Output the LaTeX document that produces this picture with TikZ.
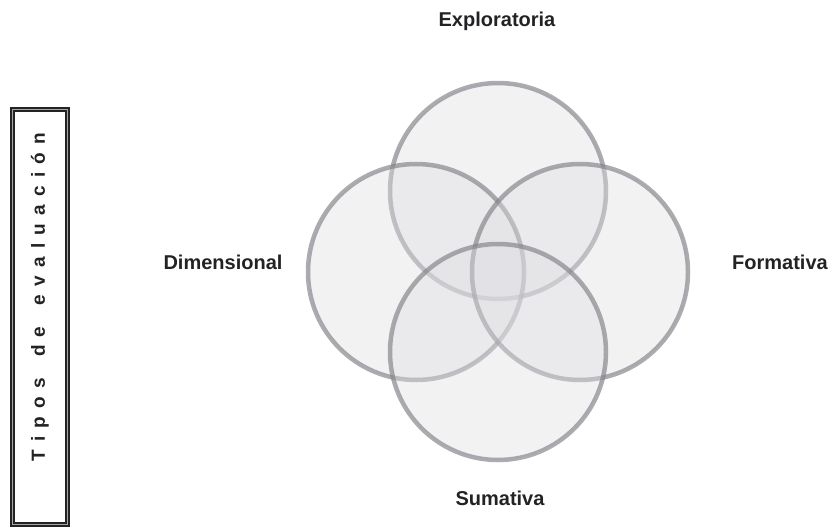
\documentclass[tikz,border=0pt]{standalone}
\usepackage{fontspec}
\setmainfont{Liberation Sans}
\usepackage{tikz}
\usetikzlibrary{positioning}
\definecolor{ringG}{RGB}{128,128,134}
\definecolor{fillG}{RGB}{222,222,226}
\definecolor{inkG}{RGB}{35,35,38}
\newcommand{\ls}{\hspace{8.3pt}}
\newcommand{\lw}{\hspace{21pt}}

\begin{document}
\begin{tikzpicture}[x=1pt, y=-1pt,
    venn/.style={circle, draw=ringG, draw opacity=0.65, line width=4.5pt,
      fill=fillG, fill opacity=0.4, minimum size=216pt, inner sep=0pt},
    tipo/.style={font=\fontsize{20}{24}\selectfont\bfseries, text=inkG},
    frame/.style={draw=inkG, line width=1.6pt, double=black!35,
      double distance=1.4pt, minimum width=55pt, minimum height=415pt, inner sep=0pt}]
  \useasboundingbox (0,0) rectangle (832,530);
  % the four overlapping rings
  \node[venn] (explo) at (498,191) {};
  \node[venn] (dimen) at (416,272) {};
  \node[venn] (forma) at (580,272) {};
  \node[venn] (suma)  at (498,352) {};
  % labels round the rings
  \node[tipo] (lexplo) at (497,21)  {Exploratoria};
  \node[tipo] (ldimen) at (223,262) {Dimensional};
  \node[tipo] (lforma) at (780,262) {Formativa};
  \node[tipo] (lsuma)  at (500,498) {Sumativa};
  % side title
  \node[frame] (tbox) at (40,317) {};
  \node[rotate=90, anchor=west, inner sep=0pt, text=inkG,
        font=\fontsize{19}{22}\selectfont\bfseries] (ttitle) at (40,462)
    {T\ls i\ls p\ls o\ls s\lw d\ls e\lw e\ls v\ls a\ls l\ls u\ls a\ls c\ls i\ls ó\ls n};
\end{tikzpicture}
\end{document}
